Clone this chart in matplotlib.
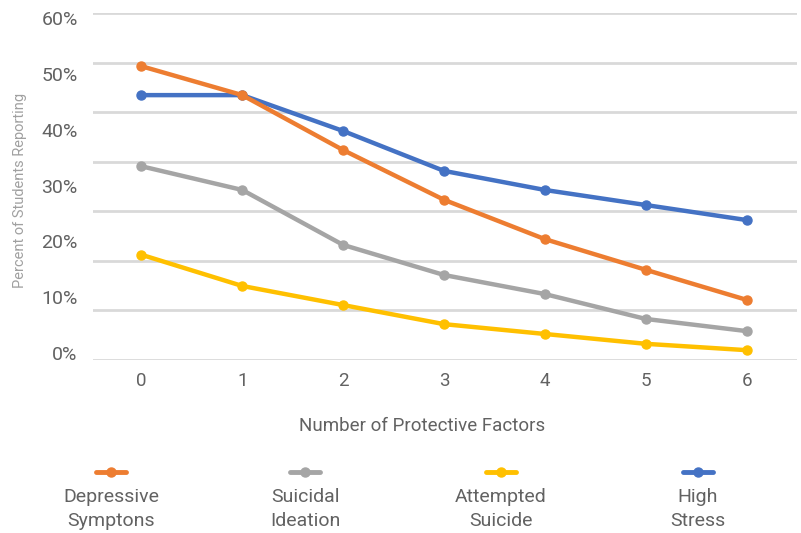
import numpy as np
import matplotlib.pyplot as plt
from matplotlib.lines import Line2D

plt.rcParams['font.family'] = ['Roboto', 'DejaVu Sans']

# data
factors = [0, 1, 2, 3, 4, 5, 6]
depressive = [50.8, 45.8, 36.3, 27.7, 20.9, 15.6, 10.4]
suicidal = [33.5, 29.4, 19.9, 14.7, 11.4, 7.1, 5.0]
attempted = [18.2, 12.8, 9.5, 6.2, 4.5, 2.8, 1.7]
stress = [45.8, 45.8, 39.6, 32.7, 29.4, 26.8, 24.2]

names = ["Depressive\nSymptons", "Suicidal\nIdeation", "Attempted\nSuicide", "High\nStress"]
colors = ["#ED7D31", "#A5A5A5", "#FFC000", "#4472C4"]
series = [depressive, suicidal, attempted, stress]
ylabels = ["0%", "10%", "20%", "30%", "40%", "50%", "60%"]

txt = '#626262'

fig = plt.figure(figsize=(8.01, 5.33), dpi=100)
ax = fig.add_axes([93/801, 1 - 360/533, 704/801, 347/533])

# blue under orange like the original
for i in [3, 1, 2, 0]:
    ax.plot(factors, series[i], color=colors[i], lw=3.2, marker='o', ms=6.5,
            solid_capstyle='round', zorder=3)

ax.set_xlim(-0.48, 6.5)
ax.set_ylim(0, 60)
ax.set_xticks(factors)
# labels sit slightly inside the gridline span in the original
ax.set_yticks(np.linspace(1.2, 59.1, 7))
ax.set_yticklabels(ylabels)
ax.set_yticks(np.linspace(0, 60, 8), minor=True)
ax.grid(which='minor', axis='y', color='#d9d9d9', lw=2)
ax.tick_params(axis='y', which='both', length=0, pad=11, labelsize=14, labelcolor=txt)
ax.tick_params(axis='x', length=0, pad=9, labelsize=13.5, labelcolor=txt)
for s in ax.spines.values():
    s.set_visible(False)
ax.set_axisbelow(True)

ax.set_xlabel("Number of Protective Factors", fontsize=13.5, color=txt)
ax.xaxis.set_label_coords(0.467, -0.165)
fig.text(20/801, 1 - 190/533, "Percent of Students Reporting", rotation=90,
         fontsize=10.5, color='#a0a0a0', ha='center', va='center')

# legend
leg_x = [111, 305, 501, 698]
for x, c, n in zip(leg_x, colors, names):
    fig.add_artist(Line2D([(x - 15)/801, (x + 15)/801], [1 - 472/533] * 2, color=c, lw=3.5,
                          solid_capstyle='round'))
    fig.add_artist(Line2D([x/801], [1 - 472/533], color=c, marker='o', ms=6.5))
    fig.text(x/801, 1 - 488/533, n, ha='center', va='top', fontsize=14, color=txt,
             linespacing=1.4)

fig.savefig("out.png", dpi=100)
